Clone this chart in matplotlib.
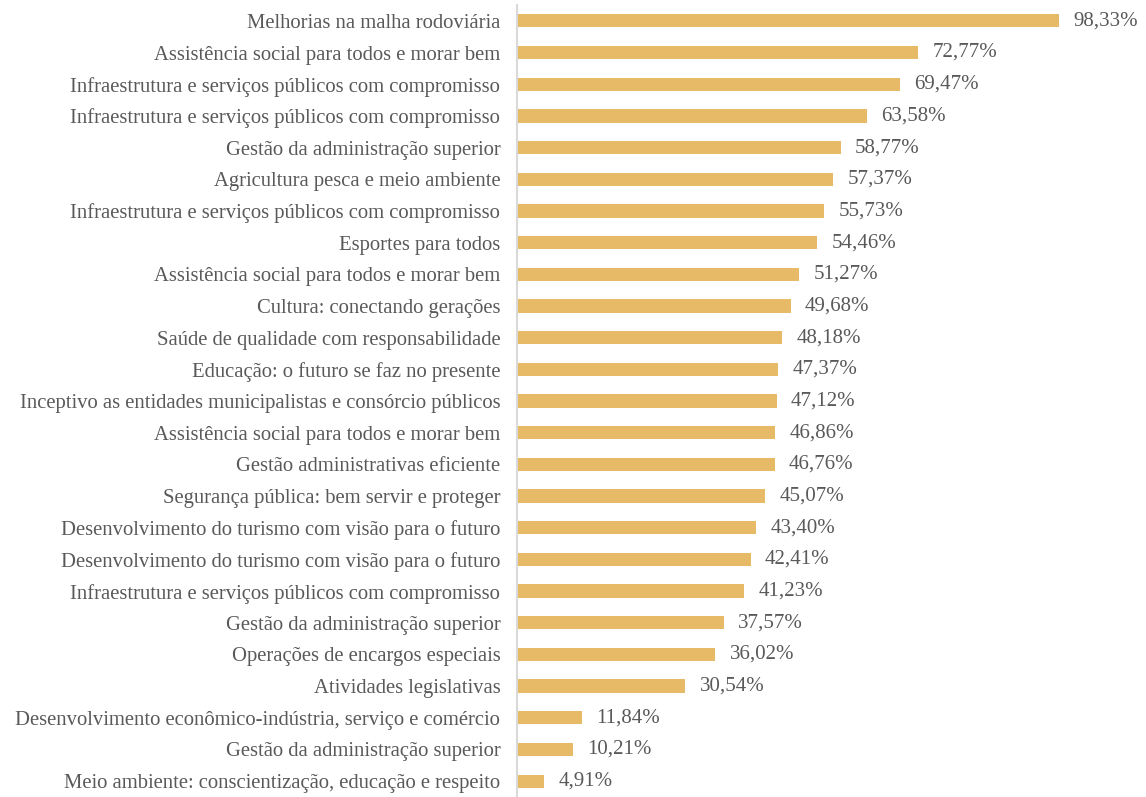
import matplotlib
matplotlib.use("Agg")
import matplotlib.pyplot as plt

categories = [
    "Melhorias na malha rodoviária",
    "Assistência social para todos e morar bem",
    "Infraestrutura e serviços públicos com compromisso",
    "Infraestrutura e serviços públicos com compromisso",
    "Gestão da administração superior",
    "Agricultura pesca e meio ambiente",
    "Infraestrutura e serviços públicos com compromisso",
    "Esportes para todos",
    "Assistência social para todos e morar bem",
    "Cultura: conectando gerações",
    "Saúde de qualidade com responsabilidade",
    "Educação: o futuro se faz no presente",
    "Inceptivo as entidades municipalistas e consórcio públicos",
    "Assistência social para todos e morar bem",
    "Gestão administrativas eficiente",
    "Segurança pública: bem servir e proteger",
    "Desenvolvimento do turismo com visão para o futuro",
    "Desenvolvimento do turismo com visão para o futuro",
    "Infraestrutura e serviços públicos com compromisso",
    "Gestão da administração superior",
    "Operações de encargos especiais",
    "Atividades legislativas",
    "Desenvolvimento econômico-indústria, serviço e comércio",
    "Gestão da administração superior",
    "Meio ambiente: conscientização, educação e respeito",
]
values = [98.33, 72.77, 69.47, 63.58, 58.77, 57.37, 55.73, 54.46, 51.27, 49.68,
          48.18, 47.37, 47.12, 46.86, 46.76, 45.07, 43.40, 42.41, 41.23, 37.57,
          36.02, 30.54, 11.84, 10.21, 4.91]
value_labels = [f"{v:.2f}".replace(".", ",") + "%" for v in values]

BAR = "#E6BA66"
TXT = "#595959"

plt.rcParams["font.family"] = ["Liberation Serif", "DejaVu Serif"]

fig = plt.figure(figsize=(11.46, 7.97), dpi=100)
ax = fig.add_axes([517 / 1146, 0.0, 1 - 517 / 1146, (797 - 5) / 797])

pos = list(range(len(values)))
ax.barh(pos, values, height=0.42, color=BAR)
ax.set_ylim(len(values) - 0.5, -0.5)
ax.set_xlim(0, 114.2)
ax.set_yticks(pos)
ax.set_yticklabels(categories, fontsize=14.9, color=TXT)
ax.tick_params(axis="y", length=0, pad=12)
ax.set_xticks([])
for s in ["top", "right", "bottom"]:
    ax.spines[s].set_visible(False)
ax.spines["left"].set_color("#D9D9D9")
ax.spines["left"].set_linewidth(1.5)

for p, v, lab in zip(pos, values, value_labels):
    ax.text(v + 2.6, p, lab, va="center", ha="left", fontsize=15, color=TXT)

fig.savefig("out.png", dpi=100)
